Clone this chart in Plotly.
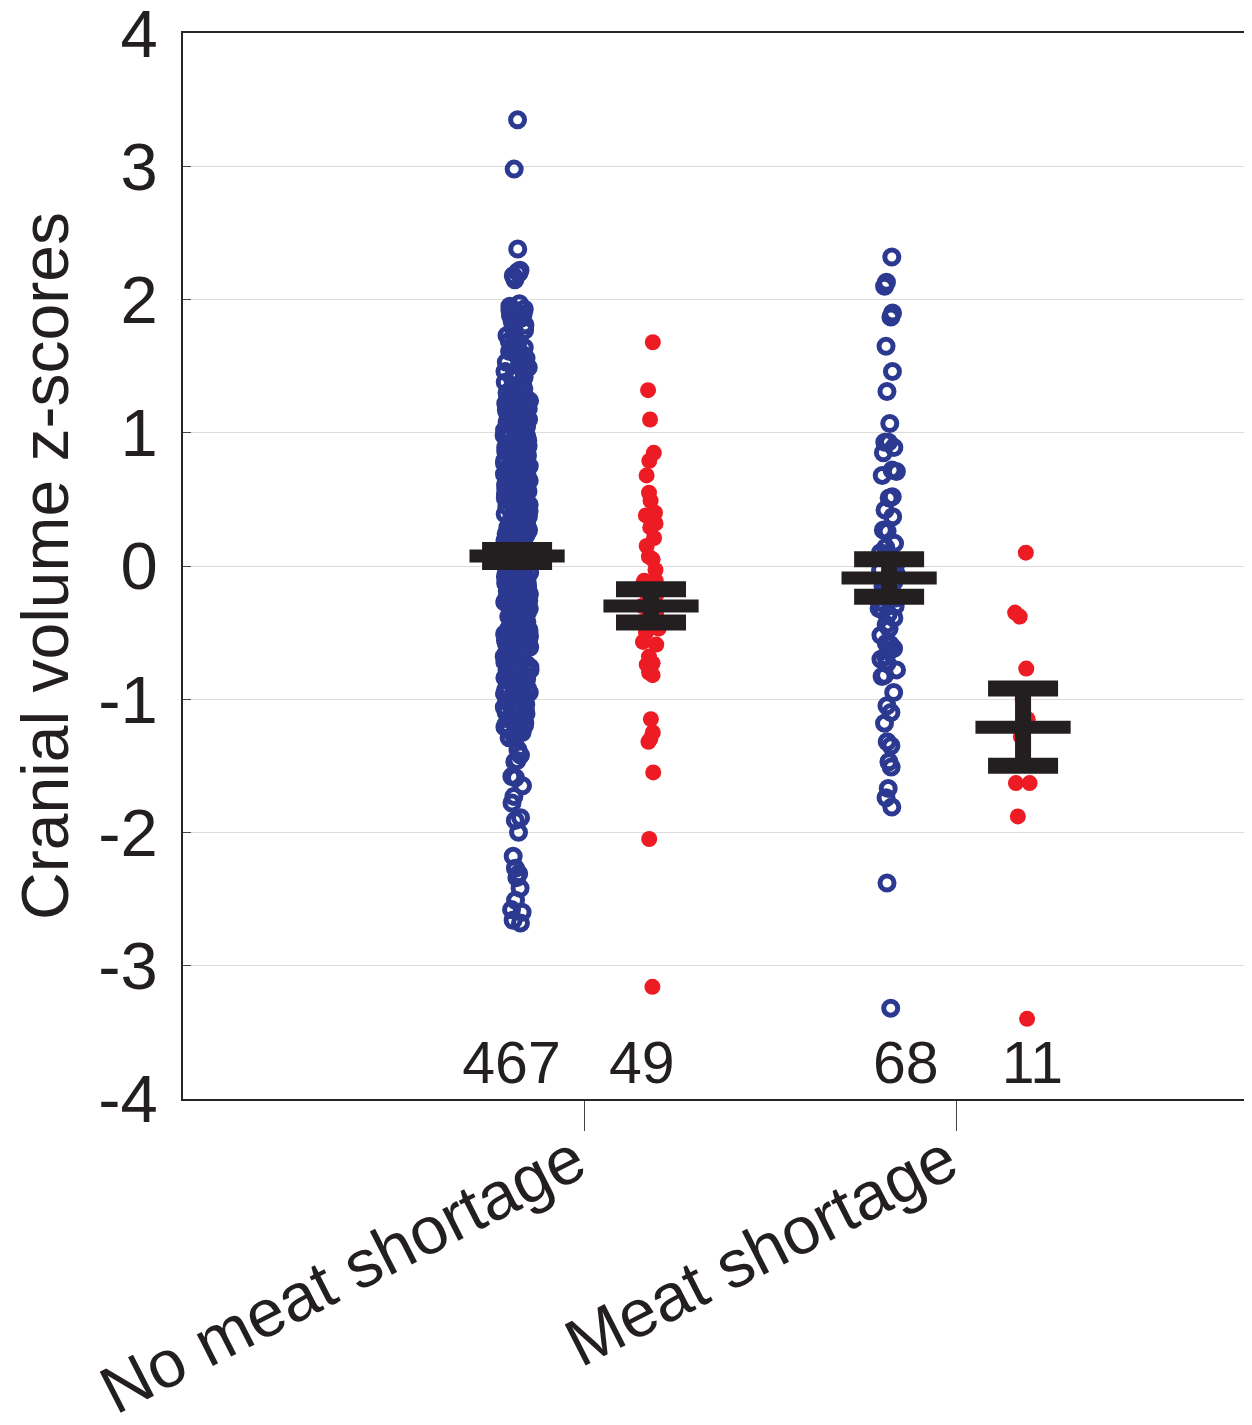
import plotly.graph_objects as go

# categories and sub-group positions on the numeric x axis
group_names = ["No meat shortage", "Meat shortage"]
group_ticks = [1, 2]
subgroup_pos = [0.82, 1.18, 1.82, 2.18]
counts = ["467", "49", "68", "11"]
count_pos = [0.805, 1.155, 1.865, 2.205]

# cranial volume z-scores (dense column estimated)
no_short_blue = [
    3.35, 2.98, 2.38, 2.22, 2.21, 2.20, 2.18, 2.15,
    1.97, 1.95, 1.93, 1.92, 1.90, 1.89, 1.88, 1.86, 1.84, 1.81,
    1.79, 1.77, 1.76, 1.73, 1.71, 1.69, 1.67, 1.66, 1.64, 1.62, 1.61,
    1.59, 1.58, 1.56, 1.54, 1.53, 1.52, 1.50, 1.49, 1.47, 1.46, 1.45, 1.43, 1.42, 1.41,
    1.39, 1.38, 1.36, 1.35, 1.34, 1.33, 1.31, 1.30, 1.29, 1.28, 1.27, 1.25, 1.24, 1.23,
    1.22, 1.21, 1.20, 1.19, 1.18, 1.17, 1.16, 1.15, 1.14, 1.13, 1.12, 1.11, 1.10,
    1.09, 1.08, 1.08, 1.07, 1.06, 1.05, 1.04, 1.03, 1.02, 1.01, 1.00,
    0.99, 0.98, 0.98, 0.97, 0.96, 0.95, 0.94, 0.93, 0.93, 0.92, 0.91, 0.90,
    0.89, 0.89, 0.88, 0.87, 0.86, 0.86, 0.85, 0.84, 0.83, 0.83, 0.82, 0.81, 0.80,
    0.79, 0.79, 0.78, 0.77, 0.77, 0.76, 0.75, 0.74, 0.74, 0.73, 0.72, 0.72, 0.71, 0.70,
    0.69, 0.69, 0.68, 0.67, 0.67, 0.66, 0.65, 0.65, 0.64, 0.63, 0.63, 0.62, 0.61, 0.61, 0.60,
    0.59, 0.59, 0.58, 0.58, 0.57, 0.56, 0.56, 0.55, 0.54, 0.54, 0.53, 0.53, 0.52, 0.51,
    0.51, 0.50, 0.49, 0.49, 0.48, 0.48, 0.47, 0.46, 0.46, 0.45, 0.45, 0.44, 0.43, 0.43,
    0.42, 0.42, 0.41, 0.41, 0.40, 0.39, 0.39, 0.38, 0.38, 0.37, 0.37, 0.36, 0.35, 0.35,
    0.34, 0.34, 0.33, 0.33, 0.32, 0.31, 0.31, 0.30, 0.29, 0.29, 0.28, 0.28, 0.27, 0.27,
    0.26, 0.26, 0.25, 0.24, 0.24, 0.23, 0.23, 0.22, 0.22, 0.21, 0.21, 0.20,
    0.19, 0.19, 0.18, 0.18, 0.17, 0.17, 0.16, 0.16, 0.15, 0.15, 0.14, 0.13, 0.13, 0.12,
    0.12, 0.11, 0.11, 0.10, 0.09, 0.09, 0.08, 0.08, 0.07, 0.07, 0.06, 0.06, 0.05, 0.05,
    0.04, 0.04, 0.03, 0.03, 0.02, 0.02, 0.01, 0.00, -0.01, -0.01, -0.02, -0.02, -0.03,
    -0.03, -0.04, -0.04, -0.05, -0.05, -0.06, -0.06, -0.07, -0.07, -0.08, -0.08, -0.09,
    -0.10, -0.11, -0.11, -0.12, -0.12, -0.13, -0.13, -0.14, -0.14, -0.15, -0.15, -0.16,
    -0.16, -0.17, -0.17, -0.18, -0.18, -0.19, -0.20, -0.21, -0.21, -0.22, -0.22, -0.23,
    -0.23, -0.24, -0.25, -0.25, -0.26, -0.26, -0.27, -0.27, -0.28, -0.28, -0.29, -0.30,
    -0.31, -0.31, -0.32, -0.32, -0.33, -0.34, -0.34, -0.35, -0.35, -0.36, -0.37, -0.37,
    -0.38, -0.38, -0.39, -0.40, -0.41, -0.42, -0.42, -0.43, -0.44, -0.45, -0.45, -0.46,
    -0.47, -0.47, -0.48, -0.49, -0.49, -0.50, -0.51, -0.52, -0.52, -0.53, -0.54, -0.55,
    -0.55, -0.56, -0.57, -0.57, -0.58, -0.59, -0.59, -0.60, -0.61, -0.62, -0.63, -0.63,
    -0.64, -0.65, -0.66, -0.66, -0.67, -0.68, -0.69, -0.69, -0.70, -0.71, -0.72, -0.73,
    -0.74, -0.74, -0.75, -0.76, -0.77, -0.78, -0.78, -0.79, -0.80, -0.81, -0.82, -0.83,
    -0.84, -0.85, -0.86, -0.86, -0.87, -0.88, -0.89, -0.90, -0.91, -0.92, -0.93, -0.94,
    -0.95, -0.96, -0.97, -0.98, -0.99, -1.00, -1.01, -1.02, -1.04, -1.05, -1.06, -1.07,
    -1.08, -1.09, -1.10, -1.11, -1.13, -1.14, -1.15, -1.16, -1.17, -1.18, -1.19, -1.20,
    -1.21, -1.23, -1.24, -1.25, -1.26, -1.27, -1.29, -1.30,
    -1.38, -1.42, -1.46, -1.47, -1.58, -1.59, -1.65, -1.73, -1.78, -1.89, -1.91, -2.00,
    -2.18, -2.27, -2.31, -2.34, -2.42, -2.51, -2.58, -2.60, -2.66, -2.68,
]

no_short_red = [
    1.68, 1.32, 1.10, 0.85, 0.79, 0.68, 0.55, 0.49, 0.40, 0.38, 0.32, 0.29,
    0.21, 0.15, 0.07, 0.05, -0.03, -0.11, -0.11, -0.14, -0.17, -0.20, -0.22,
    -0.25, -0.27, -0.30, -0.32, -0.34, -0.36, -0.38, -0.40, -0.42, -0.44, -0.47,
    -0.50, -0.57, -0.59, -0.68, -0.73, -0.74, -0.80, -0.82, -1.15, -1.25, -1.30,
    -1.32, -1.55, -2.05, -3.16,
]

short_blue = [
    2.32, 2.13, 2.10, 1.90, 1.87, 1.65, 1.46, 1.31, 1.07, 0.93, 0.93, 0.89,
    0.85, 0.72, 0.71, 0.68, 0.52, 0.51, 0.42, 0.37, 0.27, 0.26, 0.17, 0.14,
    0.10, 0.07, 0.04, 0.01, -0.03, -0.06, -0.09, -0.12, -0.15, -0.18, -0.21,
    -0.24, -0.27, -0.30, -0.32, -0.33, -0.36, -0.39, -0.44, -0.47, -0.52, -0.58,
    -0.59, -0.62, -0.64, -0.68, -0.70, -0.73, -0.78, -0.82, -0.83, -0.95, -1.05,
    -1.10, -1.18, -1.32, -1.35, -1.47, -1.51, -1.67, -1.74, -1.81, -2.38, -3.32,
]

short_red = [0.10, -0.35, -0.38, -0.77, -1.00, -1.15, -1.28, -1.63, -1.63, -1.88, -3.40]

# group means and standard errors
means = [0.075, -0.30, -0.09, -1.21]
sems = [0.045, 0.125, 0.14, 0.29]

ytick_vals = [-4, -3, -2, -1, 0, 1, 2, 3, 4]
ytick_text = [str(v) for v in ytick_vals]

BLUE = "#2B3990"
RED = "#ED1C24"
BLACK = "#231F20"
count_label_y = -3.77

fig = go.Figure()

groups = [no_short_blue, no_short_red, short_blue, short_red]
open_marker = dict(symbol="circle-open", size=14, color=BLUE, line=dict(width=5, color=BLUE))
dot_marker = dict(symbol="circle", size=16, color=RED, line=dict(width=0))
markers = [open_marker, dot_marker, open_marker, dot_marker]
widths = [0.07, 0.06, 0.06, 0.06]

for vals, pos, mk, w in zip(groups, subgroup_pos, markers, widths):
    fig.add_trace(go.Box(
        y=vals, x0=pos, width=w,
        boxpoints="all", jitter=1, pointpos=0,
        fillcolor="rgba(0,0,0,0)",
        line=dict(width=0, color="rgba(0,0,0,0)"),
        marker=mk, showlegend=False, hoverinfo="y",
    ))

# mean line + standard error bars
fig.add_trace(go.Scatter(
    x=subgroup_pos, y=means, mode="markers",
    marker=dict(symbol="line-ew", size=68, color=BLACK, line=dict(width=13, color=BLACK)),
    error_y=dict(type="data", array=sems, visible=True, thickness=16, width=35, color=BLACK),
    showlegend=False,
))

# sample sizes
fig.add_trace(go.Scatter(
    x=count_pos, y=[count_label_y] * len(counts), mode="text", text=counts,
    textfont=dict(size=59, color=BLACK), showlegend=False, hoverinfo="skip",
))

# page body adds 8px offset, so the figure is a bit smaller than the window
fig.update_layout(
    template="none",
    width=1244, height=1417,
    margin=dict(l=175, r=2, t=25, b=326),
    plot_bgcolor="white", paper_bgcolor="white",
    boxmode="overlay",
    font=dict(family="Liberation Sans, Arial, sans-serif", color=BLACK),
    xaxis=dict(
        type="linear", range=[-0.078, 2.79], automargin=False,
        tickvals=group_ticks, ticktext=group_names, tickangle=-27,
        ticks="outside", ticklen=30, tickwidth=1.2, tickcolor="#444444",
        tickfont=dict(size=67, color=BLACK), ticklabelstandoff=-34,
        ticklabelshift=-9, ticklabeloverflow="allow",
        showgrid=False, zeroline=False,
        showline=True, mirror=True, linecolor="#262626", linewidth=1.5,
    ),
    yaxis=dict(
        range=[-4.002, 4.002], automargin=False,
        tickvals=ytick_vals, ticktext=ytick_text,
        ticks="inside", ticklen=8, tickwidth=1.2, tickcolor="#444444",
        tickfont=dict(size=67, color=BLACK), ticklabelstandoff=10,
        ticklabeloverflow="allow",
        showgrid=True, gridcolor="#DCDCDC", gridwidth=1, zeroline=False,
        showline=True, mirror=True, linecolor="#262626", linewidth=1.5,
        title=dict(text="Cranial volume z-scores", font=dict(size=66, color=BLACK), standoff=60),
    ),
)

fig.write_html("out.html")
